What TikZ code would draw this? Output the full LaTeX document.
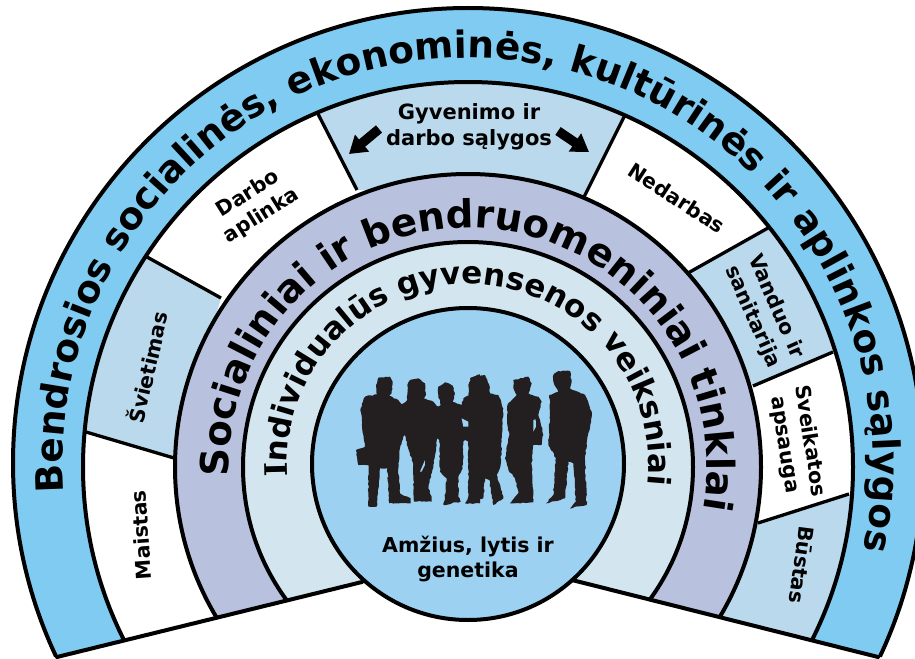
\documentclass[tikz,border=0pt]{standalone}
\usepackage{fontspec}
\setmainfont{DejaVu Sans}
\newfontface\serifbold{DejaVu Serif Bold}
\usetikzlibrary{decorations.text,decorations.pathmorphing,arrows.meta}
\definecolor{ringblue}{HTML}{80CBF1}
\definecolor{segblue}{HTML}{BBD9EC}
\definecolor{ringpurple}{HTML}{B8C1DE}
\definecolor{ringlight}{HTML}{D3E6EF}
\definecolor{corecol}{HTML}{9CD1F2}
\definecolor{people}{HTML}{231F20}
\tikzset{
  ringline/.style={draw=black,line width=4bp},
  divider/.style={draw=black,line width=3.3bp},
  lab/.style={font=\bfseries\fontsize{20.5bp}{25.5bp}\selectfont,align=center,inner sep=0pt,text=black},
  fatarrow/.style={line width=9.5bp,draw=black,-{Triangle[length=17bp,width=21bp]}},
  person/.style={fill=people,decorate,decoration={random steps,segment length=2.5bp,amplitude=0.6bp}},
}
\begin{document}
\begin{tikzpicture}[x=1bp,y=1bp]
\useasboundingbox (0,0) rectangle (915,-659);
\fill[white] (0,0) rectangle (915,-659);
\coordinate (c) at (468,-463);
\coordinate (cb) at (468,-467);
\coordinate (cc) at (468,-465);
\coordinate (cm) at (468,-464);
\coordinate (bl) at (57,-657);
\coordinate (bli) at (362,-582);
\coordinate (br) at (878,-657);
\coordinate (bri) at (572,-580);
\coordinate (d1o) at (86,-432);  \coordinate (d1i) at (174,-458);
\coordinate (d2o) at (147,-257); \coordinate (d2i) at (221,-298);
\coordinate (d3o) at (317,-112); \coordinate (d3i) at (357,-190);
\coordinate (d4o) at (625,-115); \coordinate (d4i) at (584,-197);
\coordinate (d5o) at (768,-228); \coordinate (d5i) at (688,-273);
\coordinate (d6o) at (833,-352); \coordinate (d6i) at (753,-386);
\coordinate (d7o) at (849,-494); \coordinate (d7i) at (758,-523);
\coordinate (a1s) at (379,-129); \coordinate (a1e) at (349,-154);
\coordinate (a2s) at (558,-131); \coordinate (a2e) at (589,-152);

\begin{scope}
\clip (-50,-657) -- (bl) -- (bli) -- (bri) -- (br) -- (1000,-657) -- (1000,50) -- (-50,50) -- cycle;
\fill[ringblue] (c) circle (455);
\begin{scope}
\clip (cb) circle (385);
\fill[white] (cb) circle (385);
\fill[segblue] (d1o) -- (d1i) -- (d2i) -- (d2o) -- (60,-310) -- cycle;
\fill[segblue] (d3o) -- (d3i) -- (d4i) -- (d4o) -- (470,-50) -- cycle;
\fill[segblue] (d5o) -- (d5i) -- (d6i) -- (d6o) -- (870,-280) -- cycle;
\fill[segblue] (d7o) -- (d7i) -- (720,-617) -- (812,-639) -- (870,-570) -- cycle;
\draw[divider] (d1o) -- (d1i);
\draw[divider] (d2o) -- (d2i);
\draw[divider] (d3o) -- (d3i);
\draw[divider] (d4o) -- (d4i);
\draw[divider] (d5o) -- (d5i);
\draw[divider] (d6o) -- (d6i);
\draw[divider] (d7o) -- (d7i);
\end{scope}
\draw[ringline] (c) circle (455);
\draw[ringline] (cb) circle (385);
\draw[ringline,fill=ringpurple] (cb) circle (293);
\draw[ringline,fill=ringlight] (cb) circle (225);
\end{scope}
\draw[ringline,line cap=round] (bl) -- (bli);
\draw[ringline,line cap=round] (br) -- (bri);
\draw[ringline,fill=corecol] (cm) circle (156);

% curved texts
\path[decorate,decoration={text along path,text align=center,
  text={|\bfseries\fontsize{37.5bp}{40bp}\selectfont|Bendrosios socialinės, ekonominės, kultūrinės ir aplinkos sąlygos}}]
  ([shift={(189.85:405)}]c) arc (189.85:-18.15:405);
\path[decorate,decoration={text along path,text align=center,
  text={|\bfseries\fontsize{38.7bp}{42bp}\selectfont|Socialiniai ir bendruomeniniai tinklai}}]
  ([shift={(184:239)}]cb) arc (184:-12:239);
\path[decorate,decoration={text along path,text align=center,
  text={|\serifbold\fontsize{31bp}{34bp}\selectfont|I|\bfseries\fontsize{31bp}{34bp}\selectfont|ndividualūs gyvensenos veiksniai}}]
  ([shift={(183.7:181)}]cc) arc (183.7:-6.3:181);

% straight labels
\node[lab,rotate=94] (maistas) at (141,-535) {Maistas};
\node[lab,rotate=77.4] (svietimas) at (147,-367) {Švietimas};
\node[lab,rotate=32] (darbo) at (255,-205) {Darbo\\aplinka};
\node[lab,font=\bfseries\fontsize{21bp}{25.5bp}\selectfont] (gyvenimo) at (469,-127) {Gyvenimo ir\\darbo sąlygos};
\node[lab,rotate=-33] (nedarbas) at (677,-198) {Nedarbas};
\node[lab,rotate=-66] (vanduo) at (764,-312) {Vanduo ir\\sanitarija};
\node[lab,rotate=-81] (sveikatos) at (797,-443) {Sveikatos\\apsauga};
\node[lab,rotate=-97.4] (bustas) at (802,-565) {Būstas};
\node[lab] (amzius) at (468,-559) {Amžius, lytis ir\\genetika};

\draw[fatarrow] (a1s) -- (a1e);
\draw[fatarrow] (a2s) -- (a2e);

% silhouettes, left group
\begin{scope}[shift={(350,-365)},x=0.3333bp,y=-0.3333bp]
  \path[person] (85,38) -- (120,35) -- (128,50) -- (125,85) -- (118,92) -- (145,105) -- (155,118) -- (172,105) -- (172,60) -- (180,45) -- (205,40) -- (225,55) -- (228,90) -- (222,100) -- (250,110) -- (265,125) -- (272,120) -- (265,90) -- (265,65) -- (285,52) -- (308,62) -- (315,85) -- (308,110) -- (335,120) -- (340,100) -- (360,90) -- (360,40) -- (390,28) -- (390,415) -- (345,415) -- (355,395) -- (355,230) -- (345,225) -- (340,230) -- (338,310) -- (325,335) -- (325,395) -- (332,410) -- (280,420) -- (285,400) -- (290,340) -- (270,320) -- (268,225) -- (262,220) -- (258,250) -- (250,300) -- (235,370) -- (245,395) -- (245,410) -- (192,410) -- (190,300) -- (178,260) -- (165,210) -- (160,215) -- (150,250) -- (145,310) -- (150,385) -- (182,400) -- (182,415) -- (118,415) -- (112,310) -- (90,310) -- (82,395) -- (80,425) -- (55,425) -- (55,300) -- (25,300) -- (18,255) -- (45,245) -- (40,210) -- (32,130) -- (45,95) -- (80,88) -- (78,60) -- cycle;
  \fill[corecol] (210,320) -- (225,285) -- (225,300) -- (215,320) -- cycle;
  \fill[corecol] (335,160) -- (355,170) -- (355,185) -- (340,185) -- cycle;
\end{scope}
% silhouettes, right group
\begin{scope}[shift={(470,-365)},x=0.3333bp,y=-0.3333bp]
  \path[person] (10,35) -- (45,30) -- (58,60) -- (60,85) -- (85,90) -- (100,130) -- (97,200) -- (92,300) -- (80,330) -- (100,400) -- (70,420) -- (58,345) -- (45,340) -- (40,400) -- (0,410) -- (-5,60) -- cycle;
  \path[person] (130,45) -- (175,35) -- (185,55) -- (175,85) -- (205,95) -- (215,110) -- (205,150) -- (212,175) -- (220,210) -- (215,240) -- (190,240) -- (185,300) -- (190,390) -- (190,412) -- (120,415) -- (145,385) -- (135,340) -- (115,315) -- (105,280) -- (118,210) -- (112,180) -- (112,120) -- (140,90) -- (130,70) -- cycle;
  \fill[corecol] (190,165) -- (197,163) -- (198,185) -- (190,200) -- cycle;
  \path[person] (250,30) -- (265,18) -- (300,18) -- (305,45) -- (300,70) -- (345,90) -- (365,140) -- (360,190) -- (350,235) -- (345,285) -- (350,420) -- (300,430) -- (318,410) -- (310,295) -- (295,290) -- (285,400) -- (228,415) -- (250,390) -- (258,280) -- (235,240) -- (240,150) -- (238,90) -- (265,80) -- (250,50) -- cycle;
\end{scope}
\end{tikzpicture}
\end{document}
